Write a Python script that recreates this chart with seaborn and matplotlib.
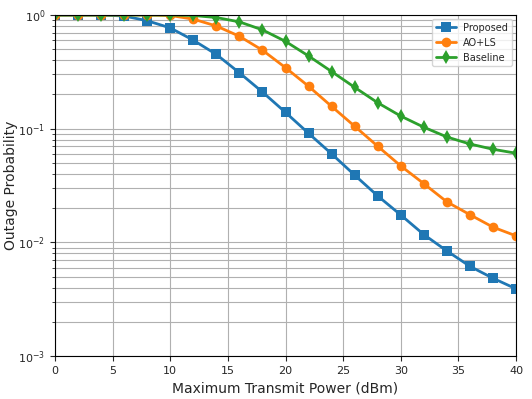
import numpy as np
import pandas as pd
import matplotlib
matplotlib.use("Agg")
import matplotlib.pyplot as plt
import seaborn as sns

power = [0, 2, 4, 6, 8, 10, 12, 14, 16, 18, 20, 22, 24, 26, 28, 30, 32, 34, 36, 38, 40]
proposed = [1.0, 1.0, 1.0, 0.98, 0.89, 0.77, 0.60, 0.45, 0.31, 0.21, 0.139, 0.091, 0.060,
            0.039, 0.0256, 0.0174, 0.0117, 0.0084, 0.00615, 0.00483, 0.0039]
ao_ls = [1.0, 1.0, 1.0, 1.0, 1.0, 0.99, 0.92, 0.80, 0.65, 0.49, 0.344, 0.236, 0.157,
         0.105, 0.070, 0.047, 0.0328, 0.0227, 0.0175, 0.0136, 0.0114]
baseline = [1.0, 1.0, 1.0, 1.0, 1.0, 1.0, 0.99, 0.95, 0.87, 0.74, 0.586, 0.436, 0.318,
            0.231, 0.169, 0.129, 0.103, 0.0845, 0.0733, 0.0659, 0.0608]
series_names = ["Proposed", "AO+LS", "Baseline"]

df = pd.DataFrame({
    "power": power * 3,
    "prob": proposed + ao_ls + baseline,
    "scheme": [series_names[0]] * len(power) + [series_names[1]] * len(power) + [series_names[2]] * len(power),
})

sns.set_style("ticks")
plt.rcParams['font.family'] = ['DejaVu Sans']

fig = plt.figure(figsize=(5.32, 3.99), dpi=100)
ax = fig.add_axes([0.1034, 0.1078, 0.8666, 0.8546])

palette = {"Proposed": "#1f77b4", "AO+LS": "#ff7f0e", "Baseline": "#2ca02c"}
markers = {"Proposed": "s", "AO+LS": "o", "Baseline": "d"}
sns.lineplot(data=df, x="power", y="prob", hue="scheme", style="scheme",
             palette=palette, markers=markers, dashes=False, linewidth=2,
             markersize=7, markeredgewidth=0, ax=ax)

ax.set_yscale("log")
ax.set_xlim(0, 40)
ax.set_ylim(1e-3, 1)
ax.set_xticks([0, 5, 10, 15, 20, 25, 30, 35, 40])
ax.grid(True, which="major", color="#b0b0b0", linewidth=0.8)
ax.grid(True, which="minor", color="#b0b0b0", linewidth=0.8)
ax.tick_params(labelsize=8)
ax.set_xlabel("Maximum Transmit Power (dBm)", fontsize=10)
ax.set_ylabel("Outage Probability", fontsize=10)
ax.yaxis.set_label_coords(-0.08, 0.5)
for s in ax.spines.values():
    s.set_color("black")
ax.legend(loc="upper right", fontsize=7, title=None, borderaxespad=0.4)

fig.savefig("out.png", dpi=100)
